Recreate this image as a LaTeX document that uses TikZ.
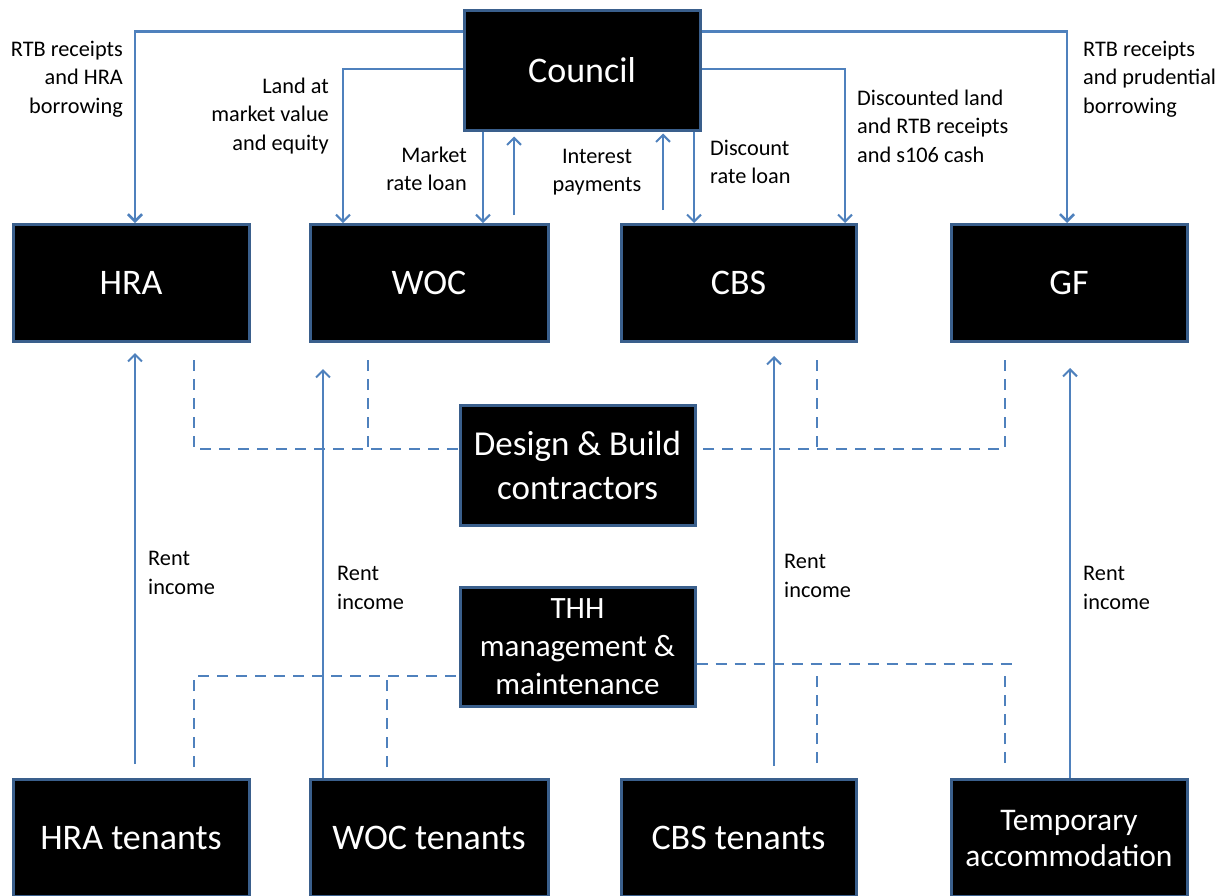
\documentclass[tikz,border=0pt]{standalone}
\usepackage{fontspec}
\setmainfont{Carlito}
\usetikzlibrary{arrows.meta}
\definecolor{lineblue}{HTML}{4F81BD}
\definecolor{boxblue}{HTML}{3A5F8C}
\begin{document}
\begin{tikzpicture}[x=1pt,y=-1pt,
  box/.style={draw=boxblue, line width=3pt, fill=black, text=white, align=center,
    minimum width=236pt, minimum height=117pt, inner sep=0pt,
    font=\fontsize{36}{42}\selectfont},
  lbl/.style={inner sep=0pt, text=black, font=\fontsize{22.3}{28.5}\selectfont},
  arr/.style={draw=lineblue, line width=2pt, -{Straight Barb[length=7pt,width=14pt]}},
  dsh/.style={draw=lineblue, line width=2pt, dash pattern=on 11pt off 8pt}]
\useasboundingbox (0,0) rectangle (1229,895);

% boxes
\node[box, minimum height=120pt] (C) at (582,70) {Council};
\node[box] (HRA) at (131,283) {HRA};
\node[box, minimum width=238pt] (WOC) at (429,283) {WOC};
\node[box, minimum width=235pt] (CBS) at (738.5,283) {CBS};
\node[box] (GF) at (1069,283) {GF};
\node[box, minimum width=235pt, minimum height=120pt, font=\fontsize{35}{44}\selectfont] (DB) at (577.5,465) {Design \& Build\\contractors};
\node[box, minimum width=235pt, minimum height=119pt, font=\fontsize{31}{38}\selectfont] (THH) at (577.5,646.5) {THH\\management \&\\maintenance};
\node[box] (HRAt) at (131,838) {HRA tenants};
\node[box, minimum width=238pt] (WOCt) at (429,838) {WOC tenants};
\node[box, minimum width=235pt] (CBSt) at (738.5,838) {CBS tenants};
\node[box, font=\fontsize{31.5}{36}\selectfont] (TA) at (1069,838) {Temporary\\accommodation};

% council flows
\draw[arr, line width=2.6pt] ([yshift=-23pt]C.north west) -| ([xshift=4pt]HRA.north);
\draw[arr] ([yshift=-60pt]C.north west) -| ([xshift=-86pt]WOC.north);
\draw[arr, line width=2.6pt] ([yshift=-23pt]C.north east) -| ([xshift=-2pt]GF.north);
\draw[arr] ([yshift=-60pt]C.north east) -| ([xshift=106.5pt]CBS.north);
\draw[arr] (C.south -| 483,0) -- (WOC.north -| 483,0);
\draw[arr, shorten <=8pt, shorten >=5pt] (WOC.north -| 514,0) -- (C.south -| 514,0);
\draw[arr, shorten <=13pt, shorten >=2pt] (CBS.north -| 663,0) -- (C.south -| 663,0);
\draw[arr] (C.south -| 694,0) -- (CBS.north -| 694,0);

% rent flows
\draw[arr, shorten <=14pt, shorten >=10pt] (HRAt.north -| 135,0) -- (HRA.south -| 135,0);
\draw[arr, shorten >=26pt] (WOCt.north -| 323,0) -- (WOC.south -| 323,0);
\draw[arr, shorten <=12pt, shorten >=13pt] (CBSt.north -| 774,0) -- (CBS.south -| 774,0);
\draw[arr, shorten >=25pt] (TA.north -| 1070,0) -- (GF.south -| 1070,0);

% design & build dashed
\coordinate (d1) at (194,360);
\coordinate (d2) at (368,360);
\coordinate (d3) at (816.5,360);
\coordinate (d4) at (1005,360);
\draw[dsh] (d1) |- ([yshift=16pt]DB.west);
\draw[dsh] (d2) -- ++(0,89);
\draw[dsh] (d4) |- ([yshift=16pt]DB.east);
\draw[dsh] (d3) -- ++(0,89);

% THH dashed
\coordinate (t1) at (194,767);
\coordinate (t2) at (387,767);
\coordinate (t3) at (816.5,763);
\coordinate (t4) at (1005,763);
\coordinate (t5) at (1012,664);
\draw[dsh] (t1) |- ([yshift=-29.5pt]THH.west);
\draw[dsh] (t2) -- ++(0,-90);
\draw[dsh] ([yshift=-17.5pt]THH.east) -- (t5);
\draw[dsh] (t3) -- ++(0,-89);
\draw[dsh] (t4) -- ++(0,-89);

% labels
\node[lbl, anchor=east, align=right] (l1) at (123,79) {RTB receipts\\and HRA\\borrowing};
\node[lbl, anchor=east, align=right] (l2) at (329,116) {Land at\\market value\\and equity};
\node[lbl, anchor=east, align=right] (l3) at (467,169) {Market\\rate loan};
\node[lbl, align=center] (l4) at (597,172) {Interest\\payments};
\node[lbl, anchor=west, align=left] (l5) at (710,162) {Discount\\rate loan};
\node[lbl, anchor=west, align=left] (l6) at (857,126) {Discounted land\\and RTB receipts\\and s106 cash};
\node[lbl, anchor=west, align=left] (l7) at (1083,79) {RTB receipts\\and prudential\\borrowing};
\node[lbl, anchor=west, align=left] (r1) at (148,573) {Rent\\income};
\node[lbl, anchor=west, align=left] (r2) at (337,588) {Rent\\income};
\node[lbl, anchor=west, align=left] (r3) at (784,576) {Rent\\income};
\node[lbl, anchor=west, align=left] (r4) at (1083,588) {Rent\\income};
\end{tikzpicture}
\end{document}
